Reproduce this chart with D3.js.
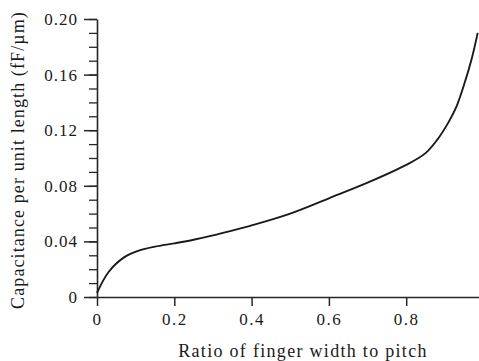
<!DOCTYPE html>
<html>
<head>
<meta charset="utf-8">
<script src="https://cdn.jsdelivr.net/npm/d3@7/dist/d3.min.js"></script>
<style>
  html, body { margin: 0; padding: 0; background: #fff; }
  svg { display: block; }
  .tick text, .label { font-family: "Liberation Serif", "Times New Roman", serif; fill: #1a1a1a; }
</style>
</head>
<body>
<svg id="chart" width="479" height="361"></svg>
<script>
// Ratio of finger width to pitch
const ratio = [0, 0.03, 0.07, 0.11, 0.15, 0.2, 0.25, 0.3, 0.35, 0.4, 0.5, 0.6, 0.7, 0.8, 0.85, 0.88, 0.91, 0.93, 0.95, 0.97, 0.985];
// Capacitance per unit length (fF/µm)
const capacitance = [0.003, 0.018, 0.0285, 0.0335, 0.0362, 0.0386, 0.0412, 0.0443, 0.0478, 0.0515, 0.0600, 0.0710, 0.0822, 0.095, 0.1035, 0.113, 0.126, 0.137, 0.153, 0.172, 0.19];

const xTicks = [0, 0.2, 0.4, 0.6, 0.8];
const xTickLabels = ["0", "0.2", "0.4", "0.6", "0.8"];
const yTicks = [0, 0.04, 0.08, 0.12, 0.16, 0.20];
const yTickLabels = ["0", "0.04", "0.08", "0.12", "0.16", "0.20"];
const yMinorTicks = d3.range(0, 0.2001, 0.01);

const xTitle = "Ratio of finger width to pitch";
const yTitle = "Capacitance per unit length (fF/\u00b5m)";

const svg = d3.select("#chart");
const x = d3.scaleLinear().domain([0, 1]).range([97, 483.5]);
const y = d3.scaleLinear().domain([0, 0.2]).range([297, 19]);

const ink = "#262626";

// minor y ticks
svg.append("g")
  .attr("transform", `translate(${x(0)},0)`)
  .call(d3.axisLeft(y).tickValues(yMinorTicks).tickSize(8).tickSizeOuter(0).tickFormat(""))
  .call(g => g.select(".domain").remove())
  .call(g => g.selectAll("line").attr("stroke", ink).attr("stroke-width", 1.3));

// major y ticks and axis
svg.append("g")
  .attr("transform", `translate(${x(0)},0)`)
  .call(d3.axisLeft(y).tickValues(yTicks).tickSize(13).tickSizeOuter(0).tickPadding(6)
    .tickFormat((d, i) => yTickLabels[i]))
  .call(g => g.select(".domain").attr("stroke", ink).attr("stroke-width", 1.6))
  .call(g => g.selectAll("line").attr("stroke", ink).attr("stroke-width", 1.5))
  .call(g => g.selectAll("text").attr("font-size", 17).attr("letter-spacing", 1));

// x axis
svg.append("g")
  .attr("transform", `translate(0,${y(0)})`)
  .call(d3.axisBottom(x).tickValues(xTicks).tickSize(9).tickSizeOuter(0).tickPadding(7)
    .tickFormat((d, i) => xTickLabels[i]))
  .call(g => g.select(".domain").attr("stroke", ink).attr("stroke-width", 1.6))
  .call(g => g.selectAll("line").attr("stroke", ink).attr("stroke-width", 1.5))
  .call(g => g.selectAll("text").attr("font-size", 17).attr("letter-spacing", 1.5));

// curve
const line = d3.line()
  .x((d, i) => x(ratio[i]))
  .y(d => y(d))
  .curve(d3.curveCatmullRom.alpha(0.5));

svg.append("path")
  .datum(capacitance)
  .attr("d", line)
  .attr("fill", "none")
  .attr("stroke", "#1a1a1a")
  .attr("stroke-width", 1.9);

// axis titles
svg.append("text")
  .attr("class", "label")
  .attr("x", 303)
  .attr("y", 357)
  .attr("text-anchor", "middle")
  .attr("font-size", 18)
  .attr("letter-spacing", 1.3)
  .text(xTitle);

svg.append("text")
  .attr("class", "label")
  .attr("transform", "translate(24,160) rotate(-90)")
  .attr("text-anchor", "middle")
  .attr("font-size", 18)
  .attr("letter-spacing", 1.1)
  .text(yTitle);
</script>
</body>
</html>
